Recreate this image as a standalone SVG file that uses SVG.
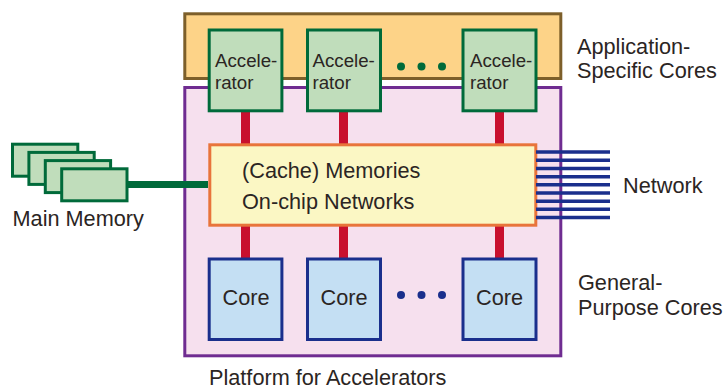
<svg xmlns="http://www.w3.org/2000/svg" width="725" height="390" viewBox="0 0 725 390">
<style>
text{font-family:"Liberation Sans",Arial,sans-serif;fill:#2b2523}
.l{font-size:21.7px}
.a{font-size:18.7px}
.acc{fill:#c0ddbb;stroke:#006a3a;stroke-width:3}
.core{fill:#c4dff3;stroke:#1a2f8c;stroke-width:3}
.red{stroke:#c8102e;stroke-width:9;fill:none}
.net{stroke:#1a2f8c;stroke-width:3.6;fill:none}
.gd{fill:#006a3a}
.bd{fill:#1a2f8c}
</style>
<g id="application-specific"><rect x="184.800" y="13.800" width="376" height="64.700" fill="#fdd388" stroke="#7d5f2a" stroke-width="3"/></g>
<g id="platform"><rect x="184.800" y="87.500" width="376" height="268.300" fill="#f6e0ee" stroke="#6f2c91" stroke-width="3"/></g>
<g id="connectors">
<path class="red" d="M245.500 111V258M343.500 111V258M499.500 111V258"/>
<path d="M127 184.500H208" stroke="#006a3a" stroke-width="7" fill="none"/>
</g>
<g id="memories"><rect x="209.800" y="144.800" width="326" height="80.400" fill="#fbf7c4" stroke="#e8743b" stroke-width="3"/>
<text class="l" x="242" y="177.500">(Cache) Memories</text><text class="l" x="242" y="209">On-chip Networks</text></g>
<g id="network-lines"><path class="net" d="M536 152H610M536 160.200H610M536 168.500H610M536 176.700H610M536 184.800H610M536 193H610M536 201.200H610M536 209.300H610M536 217.500H610"/></g>
<g id="acc1"><rect class="acc" x="209.200" y="30" width="72.700" height="80.800"/><text class="a" x="215" y="67">Accele-</text><text class="a" x="215" y="89">rator</text></g>
<g id="acc2"><rect class="acc" x="307.500" y="30" width="73" height="80.800"/><text class="a" x="312.500" y="67">Accele-</text><text class="a" x="312.500" y="89">rator</text></g>
<g id="acc3"><rect class="acc" x="463" y="30" width="73" height="80.800"/><text class="a" x="470" y="67">Accele-</text><text class="a" x="470" y="89">rator</text></g>
<g id="acc-dots"><circle class="gd" cx="401" cy="66.500" r="4"/><circle class="gd" cx="421.500" cy="66.500" r="4"/><circle class="gd" cx="442" cy="66.500" r="4"/></g>
<g id="core1"><rect class="core" x="209.200" y="259" width="72.700" height="80.500"/><text class="l" x="246" y="305" text-anchor="middle">Core</text></g>
<g id="core2"><rect class="core" x="307.500" y="259" width="73" height="80.500"/><text class="l" x="344" y="305" text-anchor="middle">Core</text></g>
<g id="core3"><rect class="core" x="463" y="259" width="73" height="80.500"/><text class="l" x="499.500" y="305" text-anchor="middle">Core</text></g>
<g id="core-dots"><circle class="bd" cx="401" cy="295" r="4"/><circle class="bd" cx="421.500" cy="295" r="4"/><circle class="bd" cx="442" cy="295" r="4"/></g>
<g id="main-memory">
<rect class="acc" x="12.500" y="144.200" width="65.300" height="32"/>
<rect class="acc" x="28.900" y="152.400" width="65.300" height="32"/>
<rect class="acc" x="45.300" y="160.600" width="65.300" height="32"/>
<rect class="acc" x="61.700" y="168.800" width="65.300" height="32"/>
<text class="l" x="12.500" y="226">Main Memory</text></g>
<g id="labels">
<text class="l" x="577" y="54">Application-</text><text class="l" x="577" y="78">Specific Cores</text>
<text class="l" x="623" y="193">Network</text>
<text class="l" x="578" y="290">General-</text><text class="l" x="578" y="315">Purpose Cores</text>
<text class="l" x="209" y="385.300">Platform for Accelerators</text>
</g>
</svg>
